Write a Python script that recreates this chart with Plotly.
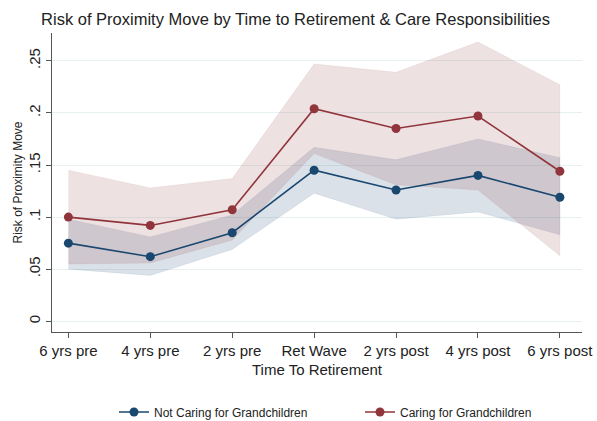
import plotly.graph_objects as go

categories = ["6 yrs pre", "4 yrs pre", "2 yrs pre", "Ret Wave", "2 yrs post", "4 yrs post", "6 yrs post"]

not_caring = [0.075, 0.062, 0.085, 0.145, 0.126, 0.140, 0.119]
not_caring_hi = [0.098, 0.081, 0.102, 0.167, 0.155, 0.175, 0.157]
not_caring_lo = [0.050, 0.044, 0.069, 0.123, 0.098, 0.105, 0.083]

caring = [0.100, 0.092, 0.107, 0.204, 0.185, 0.197, 0.144]
caring_hi = [0.145, 0.128, 0.137, 0.247, 0.239, 0.268, 0.227]
caring_lo = [0.055, 0.056, 0.078, 0.161, 0.131, 0.126, 0.063]

y_tickvals = [0, 0.05, 0.1, 0.15, 0.2, 0.25]
y_ticktext = ["0", ".05", ".1", ".15", ".2", ".25"]

BLUE = "#1a476f"
RED = "#90353b"

x = list(range(len(categories)))

fig = go.Figure()

def band(hi, lo, color, fill):
    fig.add_trace(go.Scatter(
        x=x + x[::-1], y=hi + lo[::-1], fill="toself", fillcolor=fill,
        line=dict(color=color, width=0.6), mode="lines",
        hoverinfo="skip", showlegend=False))

band(not_caring_hi, not_caring_lo, "rgba(26,71,111,0.12)", "rgba(26,71,111,0.16)")
band(caring_hi, caring_lo, "rgba(144,53,59,0.12)", "rgba(144,53,59,0.15)")

fig.add_trace(go.Scatter(x=x, y=not_caring, mode="lines+markers", name="Not Caring for Grandchildren",
                         line=dict(color=BLUE, width=1.6), marker=dict(color=BLUE, size=9),
                         legend="legend"))
fig.add_trace(go.Scatter(x=x, y=caring, mode="lines+markers", name="Caring for Grandchildren",
                         line=dict(color=RED, width=1.6), marker=dict(color=RED, size=9),
                         legend="legend2"))

leg_common = dict(orientation="h", xref="container", yref="container",
                  xanchor="left", y=0.0214, yanchor="middle",
                  font=dict(size=12, color="#222222"), bgcolor="rgba(0,0,0,0)")

fig.update_layout(
    width=597, height=421,
    margin=dict(l=52, r=15, t=33, b=89),
    paper_bgcolor="white", plot_bgcolor="white",
    font=dict(family="Arial, Liberation Sans, sans-serif", color="#222222"),
    title=dict(text="Risk of Proximity Move by Time to Retirement & Care Responsibilities",
               x=0.495, xanchor="center", y=0.955, yanchor="middle",
               font=dict(size=16.5, color="#222222")),
    xaxis=dict(
        range=[-0.2, 6.27], tickmode="array", tickvals=x, ticktext=categories,
        showline=True, linecolor="#555555", linewidth=1.2, mirror=False,
        ticks="outside", ticklen=5, tickcolor="#555555",
        showgrid=False, zeroline=False, automargin=False,
        tickfont=dict(size=15, color="#222222"),
        title=dict(text="Time To Retirement", font=dict(size=15, color="#222222"), standoff=6),
    ),
    yaxis=dict(
        range=[-0.0103, 0.2767], tickmode="array", tickvals=y_tickvals, ticktext=y_ticktext,
        tickangle=-90,
        showline=True, linecolor="#555555", linewidth=1.2,
        ticks="outside", ticklen=5, tickcolor="#555555",
        showgrid=True, gridcolor="#e8f1f2", gridwidth=1, zeroline=False, automargin=False,
        tickfont=dict(size=15, color="#222222"),
        title=dict(text="Risk of Proximity Move", font=dict(size=12, color="#222222"), standoff=0),
    ),
    legend=dict(x=114 / 597, **leg_common),
    legend2=dict(x=360 / 597, **leg_common),
)

fig.write_html("out.html", config={"displayModeBar": False},
               post_script="document.body.style.margin='0';document.body.style.overflow='hidden';")
